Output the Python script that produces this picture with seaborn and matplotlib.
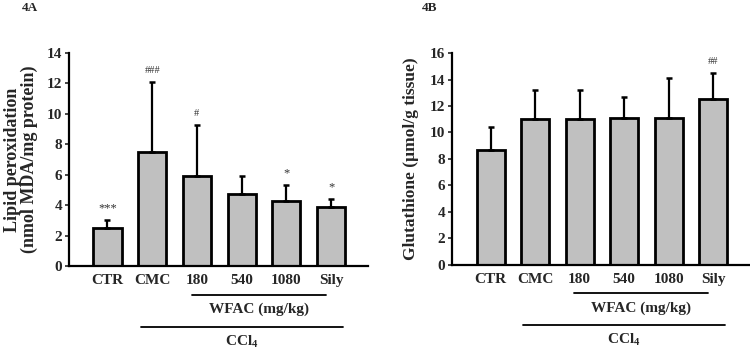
import matplotlib
matplotlib.use("Agg")
import matplotlib.pyplot as plt
import seaborn as sns
import numpy as np
import pandas as pd

# Treatment groups
groups = ["CTR", "CMC", "180", "540", "1080", "Sily"]

# Lipid peroxidation (nmol MDA/mg protein): mean and SD
mda_mean = [2.5, 7.5, 5.9, 4.7, 4.3, 3.9]
mda_sd = [0.5, 4.6, 3.4, 1.2, 1.0, 0.5]
mda_sig = ["***", "###", "#", "", "*", "*"]

# Glutathione (umol/g tissue): mean and SD
gsh_mean = [8.7, 11.0, 11.0, 11.1, 11.1, 12.5]
gsh_sd = [1.7, 2.2, 2.2, 1.6, 3.0, 2.0]
gsh_sig = ["", "", "", "", "", "##"]

sns.set_theme(style="ticks")
plt.rcParams["font.family"] = ["Liberation Serif", "DejaVu Serif"]
plt.rcParams["font.weight"] = "bold"
plt.rcParams["mathtext.fontset"] = "custom"
plt.rcParams["mathtext.rm"] = "Liberation Serif:bold"

fig = plt.figure(figsize=(7.5, 3.49), dpi=100)
axA = fig.add_axes([0.092, 0.238, 0.399, 0.610])
axB = fig.add_axes([0.603, 0.241, 0.397, 0.607])


def draw_panel(ax, means, sds, sig, ymax, ylabel, ylabel_size, labelpad):
    df = pd.DataFrame({"group": groups, "value": means})
    sns.barplot(data=df, x="group", y="value", ax=ax, color="#c0c0c0",
                saturation=1, width=0.63, edgecolor="black", linewidth=2.0,
                errorbar=None)
    x = np.arange(len(groups))
    ax.errorbar(x, means, yerr=[np.zeros(len(sds)), sds], fmt="none",
                ecolor="black", elinewidth=1.6, capsize=2.5, capthick=1.8,
                zorder=3)
    for xi, m, s, t in zip(x, means, sds, sig):
        if t:
            size = 9 if "*" in t else 7.5
            ax.annotate(t, (xi, m + s), xytext=(0, 4 if "*" in t else 5),
                        textcoords="offset points", ha="center", va="bottom",
                        fontsize=size, fontweight="normal", color="#333333")
    ax.set_xlim(-0.86, 5.83)
    ax.set_ylim(0, ymax)
    ax.set_yticks(np.arange(0, ymax + 1, 2))
    ax.set_xlabel("")
    ax.set_ylabel(ylabel, fontsize=ylabel_size, fontweight="bold",
                  labelpad=labelpad, linespacing=1.0)
    for side in ["top", "right"]:
        ax.spines[side].set_visible(False)
    for side in ["left", "bottom"]:
        ax.spines[side].set_linewidth(1.6)
        ax.spines[side].set_color("black")
    ax.tick_params(axis="y", length=3, width=1.2, pad=2, labelsize=11)
    ax.tick_params(axis="x", length=0, pad=6, labelsize=11)
    for lab in ax.get_xticklabels() + ax.get_yticklabels():
        lab.set_fontweight("bold")

    # Group brackets beneath the axis
    tr = ax.get_xaxis_transform()
    ax.plot([1.88, 4.89], [-0.135, -0.135], transform=tr, color="black",
            lw=1.3, clip_on=False)
    ax.text(3.39, -0.205, "WFAC (mg/kg)", transform=tr, ha="center",
            va="center", fontsize=11, fontweight="bold")
    ax.plot([0.74, 5.27], [-0.285, -0.285], transform=tr, color="black",
            lw=1.3, clip_on=False)
    ax.text(3.0, -0.355, r"CCl$_\mathregular{4}$", transform=tr, ha="center",
            va="center", fontsize=11, fontweight="bold")


draw_panel(axA, mda_mean, mda_sd, mda_sig, 14,
           "Lipid peroxidation\n(nmol MDA/mg protein)", 13, 6)
draw_panel(axB, gsh_mean, gsh_sd, gsh_sig, 16,
           "Glutathione (\u00b5mol/g tissue)", 12.5, 8)

fig.text(22 / 750, 1 - 8 / 349, "4A", fontsize=9.5, fontweight="bold",
         ha="left", va="center")
fig.text(422 / 750, 1 - 8 / 349, "4B", fontsize=9.5, fontweight="bold",
         ha="left", va="center")

fig.savefig("out.png", dpi=100, facecolor="white")
